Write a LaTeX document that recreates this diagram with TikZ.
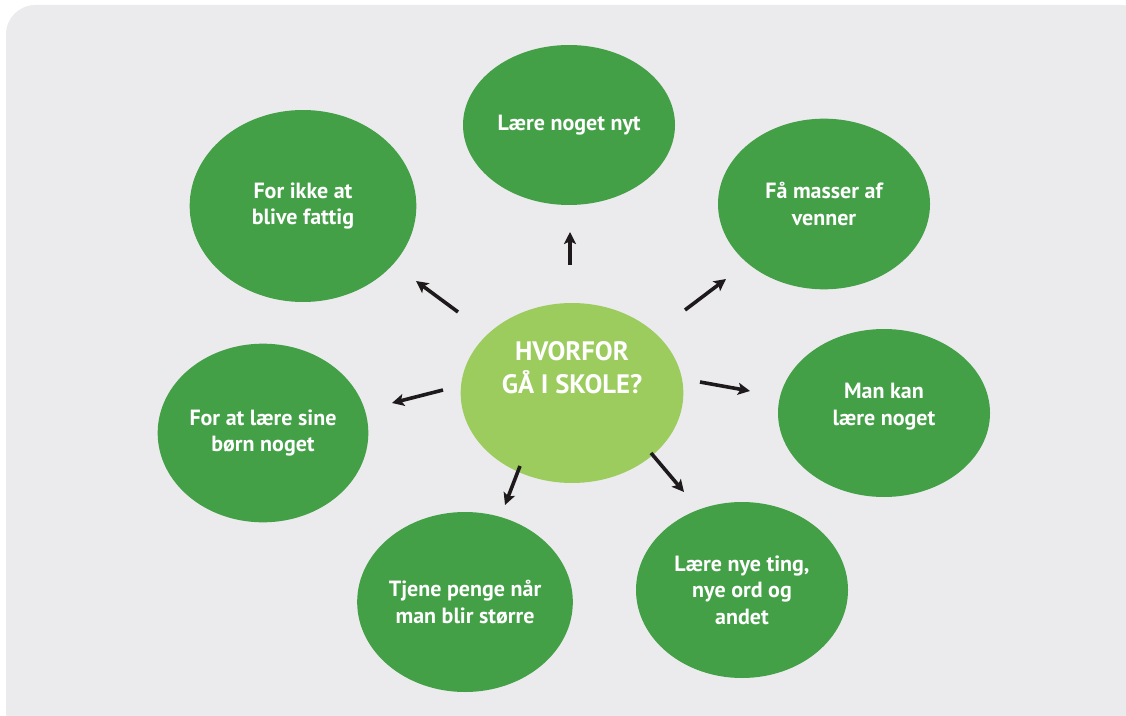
\documentclass[tikz,border=0pt]{standalone}
\usepackage{fontspec}
\setmainfont{PT Sans}
\usetikzlibrary{shapes.geometric,arrows.meta}
\definecolor{panel}{HTML}{EBEBED}
\definecolor{leaf}{HTML}{43A047}
\definecolor{core}{HTML}{9CCB5E}
\definecolor{ink}{HTML}{1E1A1C}
% text block lifted inside its node, keeping the node's size
\newcommand{\lifted}[2]{\raisebox{#1}[\height][\depth]{\begin{tabular}{@{}c@{}}#2\end{tabular}}}
\tikzset{
  bubble/.style={ellipse, fill=leaf, inner sep=0pt, text=white,
    font=\bfseries\fontsize{16.5}{20}\selectfont, align=center},
  hub/.style={ellipse, fill=core, inner sep=0pt, text=white,
    font=\bfseries\fontsize{20}{24}\selectfont, align=center},
  arr/.style={draw=ink, line width=2.7pt,
    -{Stealth[length=9pt,width=9pt,inset=2pt]}},
}
\begin{document}
\begin{tikzpicture}[x=0.75pt,y=-0.75pt]
\useasboundingbox (0,0) rectangle (1126,716);
\begin{scope}
  \clip (0,0) rectangle (1126,716);
  \fill[panel, rounded corners=22pt] (6,5) rectangle (1150,740);
\end{scope}

% outer bubbles
\node[bubble, minimum width=159pt, minimum height=120pt] (nyt) at (569,125) {Lære noget nyt};
\node[bubble, minimum width=159pt, minimum height=128pt] (venner) at (824,204) {Få masser af\\venner};
\node[bubble, minimum width=159pt, minimum height=126pt] (mankan) at (884,413) {\lifted{5pt}{Man kan\\lære noget}};
\node[bubble, minimum width=159pt, minimum height=132pt] (ting) at (742,590) {Lære nye ting,\\nye ord og\\andet};
\node[bubble, minimum width=158pt, minimum height=135pt] (penge) at (465,602) {Tjene penge når\\man blir større};
\node[bubble, minimum width=158pt, minimum height=134pt] (born) at (263,433) {For at lære sine\\børn noget};
\node[bubble, minimum width=170pt, minimum height=144pt] (fattig) at (303,206) {For ikke at\\blive fattig};

% centre
\node[hub, minimum width=167pt, minimum height=135pt] (hub) at (572,393) {\lifted{17pt}{HVORFOR\\GÅ I SKOLE?}};

% arrow ends
\coordinate (t1) at (570,265);  \coordinate (h1) at (570,232);
\coordinate (t2) at (685,310);  \coordinate (h2) at (726,279);
\coordinate (t3) at (700,382);  \coordinate (h3) at (750,391);
\coordinate (t4) at (651,453);  \coordinate (h4) at (684,492);
\coordinate (t5) at (520,466);  \coordinate (h5) at (505,505);
\coordinate (t6) at (443,390);  \coordinate (h6) at (392,403);
\coordinate (t7) at (458,312);  \coordinate (h7) at (416,281);

\foreach \i in {1,...,7} \draw[arr] (t\i) -- (h\i);
\end{tikzpicture}
\end{document}
